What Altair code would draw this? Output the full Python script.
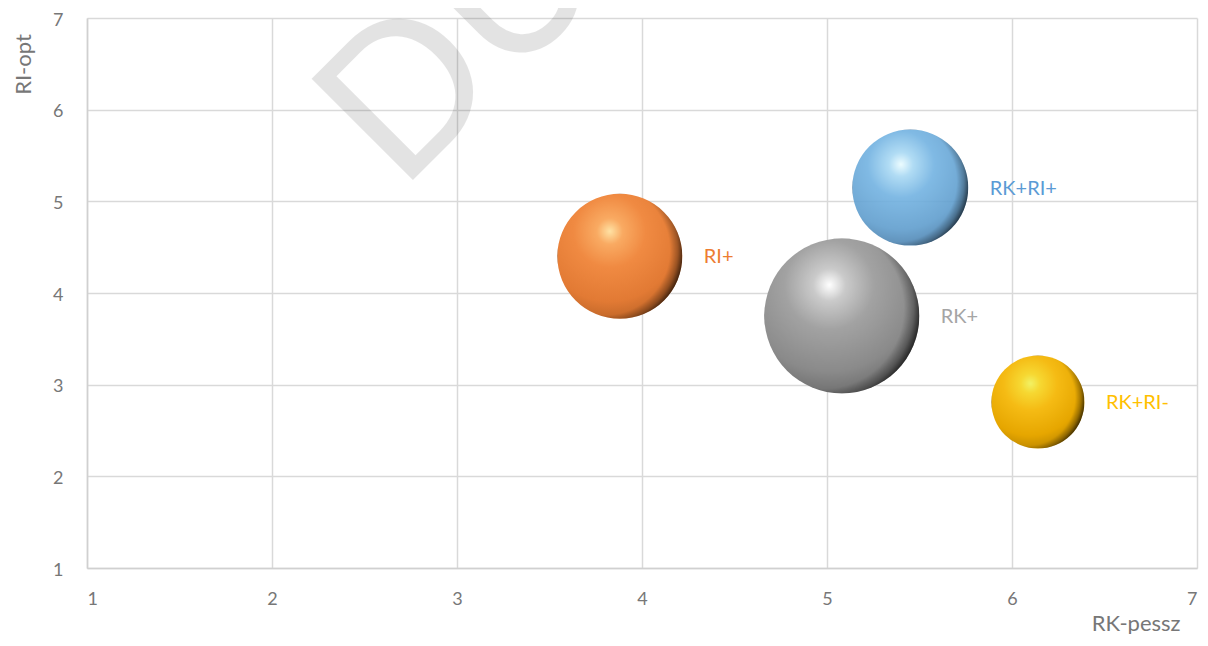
import math
import altair as alt
import pandas as pd

# ---- data ----
series = ["RI+", "RK+", "RK+RI+", "RK+RI-"]
rk_pessz = [3.88, 5.08, 5.45, 6.14]   # x
ri_opt = [4.40, 3.75, 5.15, 2.81]     # y
bubble_size = [65, 100, 56, 36]       # relative bubble area
label_colors = ["#ED7D31", "#A5A5A5", "#5B9BD5", "#FFC000"]
x_ticks = [1, 2, 3, 4, 5, 6, 7]
y_ticks = [1, 2, 3, 4, 5, 6, 7]

df = pd.DataFrame({"series": series, "x": rk_pessz, "y": ri_opt, "size": bubble_size})

# ---- styles ----
# Vega circle: radius = sqrt(size) / 2
MAX_AREA = (2 * 77.5) ** 2
SIZE_DOMAIN = [0, 100]
FONT = "Lato"
TXT = "#777777"
GRID = "#d9d9d9"

gradient_stops = {
    "RI+": ["#ffe2a4", "#f9aa62", "#f08a42", "#e27a34", "#ad5b22"],
    "RK+": ["#ffffff", "#cacaca", "#a2a2a2", "#8a8a8a", "#5e5e5e"],
    "RK+RI+": ["#eafcff", "#a8d8f3", "#72b2e1", "#5f9dcd", "#3f6f99"],
    "RK+RI-": ["#f2f264", "#f6d832", "#f5bb14", "#e6a600", "#a87800"],
}
offsets = [0.0, 0.13, 0.36, 0.7, 1.0]


def sphere(name):
    return alt.RadialGradient(
        gradient="radial",
        x1=0.42, y1=0.3, r1=0.0,
        x2=0.42, y2=0.3, r2=0.8,
        stops=[alt.GradientStop(offset=o, color=c) for o, c in zip(offsets, gradient_stops[name])],
    )


shade = alt.RadialGradient(
    gradient="radial",
    x1=0.38, y1=0.45, r1=0.0,
    x2=0.38, y2=0.45, r2=0.65,
    stops=[
        alt.GradientStop(offset=0.0, color="rgba(0,0,0,0)"),
        alt.GradientStop(offset=0.8, color="rgba(0,0,0,0)"),
        alt.GradientStop(offset=0.9, color="rgba(0,0,0,0.3)"),
        alt.GradientStop(offset=1.0, color="rgba(0,0,0,0.85)"),
    ],
)

x_enc = alt.X(
    "x:Q",
    scale=alt.Scale(domain=[1, 7], nice=False, zero=False),
    axis=alt.Axis(
        values=x_ticks, title="RK-pessz", format="d",
        labelBaseline="middle", labelPadding=31,
        titleX=1093, titleY=62, titleAlign="right", titleBaseline="alphabetic",
        titleAnchor="end",
    ),
)
y_enc = alt.Y(
    "y:Q",
    scale=alt.Scale(domain=[1, 7], nice=False, zero=False),
    axis=alt.Axis(
        values=y_ticks, title="RI-opt", format="d",
        labelPadding=24, labelOffset=2,
        titleX=-57, titleY=46, titleAngle=270, titleAlign="center", titleBaseline="alphabetic",
    ),
)
size_enc = alt.Size(
    "size:Q",
    scale=alt.Scale(domain=SIZE_DOMAIN, range=[0, MAX_AREA], zero=True),
    legend=None,
)

watermark = alt.Chart(pd.DataFrame({"t": ["DU"]})).mark_text(
    font=FONT, fontSize=200, angle=315, align="left", baseline="alphabetic",
    color="#000000", opacity=0.105,
).encode(x=alt.value(313), y=alt.value(175), text="t:N")

layers = [watermark]
for name, col in zip(series, label_colors):
    sub = alt.Chart(df).transform_filter(alt.datum.series == name)
    op = 0.9 if name == "RK+RI+" else 1.0
    layers.append(
        sub.mark_circle(fill=sphere(name), opacity=op, strokeWidth=0).encode(
            x=x_enc, y=y_enc, size=size_enc
        )
    )
    layers.append(
        sub.mark_circle(fill=shade, opacity=op, strokeWidth=0).encode(
            x=x_enc, y=y_enc, size=size_enc
        )
    )
    val = bubble_size[series.index(name)]
    r = math.sqrt(val / SIZE_DOMAIN[1] * MAX_AREA) / 2
    layers.append(
        sub.mark_text(
            align="left", baseline="middle", dx=r + 21.5, dy=1,
            font=FONT, fontSize=20, color=col,
        ).encode(x=x_enc, y=y_enc, text="series:N")
    )

chart = (
    alt.layer(*layers)
    .properties(
        width=1110, height=550,
        padding={"left": 79, "top": 10, "right": 3, "bottom": 66},
        autosize=alt.AutoSizeParams(type="none"),
        background="white",
    )
    .configure_view(stroke=None)
    .configure_axis(
        labelFont=FONT, labelFontSize=18, labelColor=TXT,
        titleFont=FONT, titleFontSize=22, titleColor=TXT, titleFontWeight="normal",
        gridColor=GRID, gridWidth=1.5, domainColor="#d0d0d0", domainWidth=1.5,
        ticks=False, tickSize=0,
    )
)

chart.save("out.html", embed_options={"renderer": "svg", "actions": False})
